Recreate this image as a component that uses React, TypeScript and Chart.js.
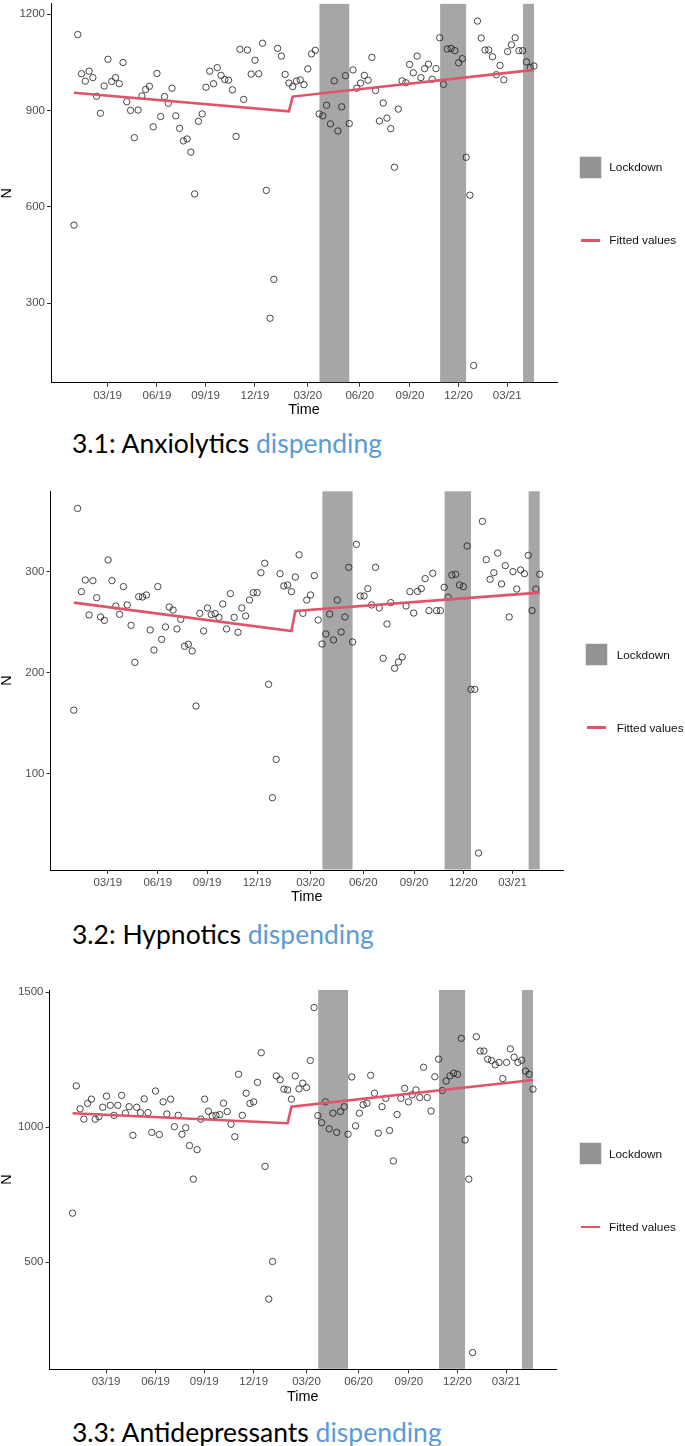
import React, { useEffect, useRef } from "react";
import { Chart, registerables } from "chart.js";

Chart.register(...registerables);

// ---------- data ----------
const WEEK_TICKS = [8.9, 22.0, 34.9, 48.0, 62.0, 75.8, 89.1, 102.0, 114.9];
const WEEK_TICK_LABELS = ["03/19", "06/19", "09/19", "12/19", "03/20", "06/20", "09/20", "12/20", "03/21"];

const LOCKDOWN_START = [65.1, 97.1, 119.1];
const LOCKDOWN_END = [73.0, 104.0, 122.0];

const FIT_WEEKS = [0, 57, 58, 122];

const ANXIO_N = [
  543, 1136, 1014, 991, 1022, 1002, 944, 891, 976, 1059, 990, 1002, 983, 1049, 927, 900, 815, 901, 945, 965,
  975, 849, 1015, 881, 943, 922, 969, 883, 844, 805, 811, 770, 640, 866, 889, 972, 1022, 983, 1033, 1009,
  996, 994, 964, 819, 1090, 934, 1088, 1013, 1056, 1014, 1109, 651, 253, 374, 1093, 1069, 1012, 985, 974, 991,
  995, 980, 1029, 1076, 1087, 889, 883, 916, 858, 992, 836, 911, 1008, 859, 1026, 969, 985, 1009, 994, 1065,
  962, 867, 923, 876, 843, 723, 904, 992, 986, 1043, 1017, 1069, 1002, 1030, 1044, 997, 1030, 1126, 981, 1091,
  1093, 1086, 1048, 1061, 754, 636, 106, 1178, 1125, 1088, 1088, 1067, 1011, 1040, 995, 1083, 1104, 1126, 1086, 1086,
  1051, 1033, 1038,
];
const ANXIO_FIT = [955, 897, 943, 1026];
const ANXIO_YTICKS = [300, 600, 900, 1200];

const HYPNO_N = [
  163, 363, 280.5, 292, 257.4, 291.4, 274.5, 255.4, 252, 311.9, 291.4, 266.3, 258, 285.5, 267.3, 247.1, 210.4, 275.5, 275.2, 277.2,
  242.5, 222.6, 285.5, 233.2, 245.5, 265.3, 262.3, 243.5, 253, 226.3, 228.3, 221.7, 167.1, 259, 241.5, 264.3, 257.7, 258.7, 255, 268.3,
  243.5, 278.5, 255, 240.2, 264.3, 256.4, 272.2, 279.5, 279.5, 299.3, 308.6, 188.6, 76.2, 114.2, 298.3, 286.1, 287.1, 280.5, 295, 317,
  259, 272.2, 277.2, 296.4, 252.4, 228.6, 238.5, 258.3, 232.6, 272.2, 240.5, 255.4, 304.6, 230.6, 327.4, 276.2, 276.2, 283.5, 267.3, 304.6,
  264.3, 214.4, 248.4, 269.6, 204.5, 210.7, 215.7, 266.3, 280.5, 259.3, 280.8, 283.5, 293.4, 261.7, 298.7, 261.7, 261.7, 284.8, 274.9, 297,
  297.7, 287.1, 285.5, 325.8, 183.6, 183.6, 21.3, 350.2, 312.2, 292.7, 299.3, 318.8, 288.1, 306.3, 255.4, 300.3, 283.1, 302, 298.3, 316.5,
  261.7, 283.1, 297.7,
];
const HYPNO_FIT = [269.6, 241.5, 261.3, 279.5];
const HYPNO_YTICKS = [100, 200, 300];

const ANTIDEP_N = [
  682, 1153, 1068, 1030, 1088, 1104, 1030, 1039, 1074, 1115, 1081, 1044, 1081, 1118, 1052, 1076, 970, 1074, 1054, 1105,
  1054, 981, 1134, 973, 1094, 1049, 1104, 1002, 1044, 974, 998, 932, 808, 917, 1030, 1104, 1059, 1042, 1044, 1047,
  1089, 1058, 1011, 965, 1196, 1044, 1126, 1088, 1094, 1166, 1276, 855, 364, 503, 1190, 1176, 1141, 1138, 1104, 1190,
  1142, 1163, 1147, 1247, 1443, 1043, 1017, 1094, 994, 1052, 981, 1058, 1076, 974, 1186, 1005, 1052, 1083, 1089, 1192,
  1126, 978, 1076, 1107, 988, 875, 1047, 1107, 1144, 1094, 1120, 1138, 1110, 1222, 1110, 1060, 1187, 1252, 1136, 1171,
  1190, 1200, 1196, 1329, 953, 808, 166, 1335, 1282, 1282, 1252, 1247, 1231, 1240, 1180, 1240, 1290, 1259, 1240, 1248,
  1208, 1196, 1141,
];
const ANTIDEP_FIT = [1052, 1015, 1076, 1175];
const ANTIDEP_YTICKS = [500, 1000, 1500];

// ---------- styles ----------
const FIT_COLOR = "#DF536B";
const BAND_COLOR = "#a6a6a6";
const LEGEND_BOX_COLOR = "#939393";
const TICK_TEXT = "#4d4d4d";
const SANS = "'Liberation Sans', Arial, sans-serif";

Chart.defaults.font.family = SANS;

const bandPlugin = {
  id: "lockdownBands",
  beforeDatasetsDraw(chart: any) {
    const { ctx, chartArea, scales } = chart;
    const x = scales.x;
    ctx.save();
    ctx.fillStyle = BAND_COLOR;
    LOCKDOWN_START.forEach((s, k) => {
      const x1 = x.getPixelForValue(s);
      const x2 = x.getPixelForValue(LOCKDOWN_END[k]);
      ctx.fillRect(x1, chartArea.top, x2 - x1, chartArea.bottom - chartArea.top - 0.5);
    });
    ctx.restore();
  },
};

type PanelProps = {
  values: number[];
  fit: number[];
  yTicks: number[];
  yMin: number;
  yMax: number;
  plotTop: number;
  plotBottom: number;
  plotLeft: number;
  plotRight: number;
};

const CANVAS_W = 600;
const PAD_TOP = 12;
const X_AXIS_H = 36;

function Panel(p: PanelProps) {
  const ref = useRef<HTMLCanvasElement>(null);
  const canvasTop = Math.floor(p.plotTop) - PAD_TOP;
  const canvasH = Math.ceil(p.plotBottom - canvasTop + X_AXIS_H + 2);
  useEffect(() => {
    const canvas = ref.current;
    if (!canvas) return;
    const chart = new Chart(canvas, {
      type: "scatter",
      data: {
        datasets: [
          {
            type: "line",
            label: "Fitted values",
            data: FIT_WEEKS.map((w, i) => ({ x: w, y: p.fit[i] })),
            borderColor: FIT_COLOR,
            backgroundColor: FIT_COLOR,
            borderWidth: 2.6,
            pointRadius: 0,
            tension: 0,
            order: 0,
          } as any,
          {
            type: "scatter",
            label: "N",
            data: p.values.map((v, i) => ({ x: i, y: v })),
            pointRadius: 3.2,
            pointBorderWidth: 0.8,
            pointBorderColor: "#1a1a1a",
            pointBackgroundColor: "rgba(0,0,0,0)",
            order: 1,
          } as any,
        ],
      },
      options: {
        responsive: false,
        animation: false,
        devicePixelRatio: 1,
        layout: {
          padding: {
            left: 0,
            top: p.plotTop - canvasTop,
            right: CANVAS_W - p.plotRight,
            bottom: canvasH - (p.plotBottom - canvasTop) - X_AXIS_H,
          },
        },
        plugins: {
          legend: { display: false },
          tooltip: { enabled: false },
        },
        scales: {
          x: {
            type: "linear",
            min: -6.1,
            max: 128.1,
            afterBuildTicks: (scale: any) => {
              scale.ticks = WEEK_TICKS.map((v) => ({ value: v }));
            },
            afterFit: (scale: any) => {
              scale.height = X_AXIS_H;
            },
            ticks: {
              autoSkip: false,
              maxRotation: 0,
              padding: 2,
              color: TICK_TEXT,
              font: { size: 11.5, family: SANS },
              callback: (_v: any, i: number) => WEEK_TICK_LABELS[i],
            },
            grid: { display: true, drawOnChartArea: false, drawTicks: true, tickLength: 4, color: "#333" },
            border: { display: true, color: "#000", width: 1 },
            title: {
              display: true,
              text: "Time",
              color: "#000",
              font: { size: 14.4, family: SANS, lineHeight: 1.2 },
              padding: { top: 0, bottom: 0 },
            },
          },
          y: {
            type: "linear",
            min: p.yMin,
            max: p.yMax,
            afterBuildTicks: (scale: any) => {
              scale.ticks = p.yTicks.map((v) => ({ value: v }));
            },
            afterFit: (scale: any) => {
              scale.width = p.plotLeft;
            },
            ticks: {
              padding: 2,
              color: TICK_TEXT,
              font: { size: 11.5, family: SANS },
              callback: (v: any) => String(v),
            },
            grid: { display: true, drawOnChartArea: false, drawTicks: true, tickLength: 4, color: "#333" },
            border: { display: true, color: "#000", width: 1 },
            title: {
              display: true,
              text: "N",
              color: "#000",
              font: { size: 14.4, family: SANS, lineHeight: 1 },
              padding: { top: 0, bottom: 0 },
            },
          },
        },
      },
      plugins: [bandPlugin],
    });
    return () => chart.destroy();
  }, []);
  return (
    <canvas
      ref={ref}
      width={CANVAS_W}
      height={canvasH}
      style={{ position: "absolute", left: 0, top: canvasTop, width: CANVAS_W, height: canvasH }}
    />
  );
}

type LegendProps = { keyLeft: number; boxTop: number; lineY: number; textLeft: number };

function Legend(l: LegendProps) {
  const txt: React.CSSProperties = {
    position: "absolute",
    left: l.textLeft,
    fontFamily: SANS,
    fontSize: 11.8,
    lineHeight: "14px",
    height: 14,
    color: "#111",
    whiteSpace: "nowrap",
  };
  return (
    <>
      <div
        style={{
          position: "absolute",
          left: l.keyLeft,
          top: l.boxTop,
          width: 21,
          height: 21,
          background: LEGEND_BOX_COLOR,
          boxShadow: "0 0 0 0.5px #c8c8c8",
        }}
      />
      <div style={{ ...txt, top: l.boxTop + 10.5 - 7 }}>Lockdown</div>
      <div
        style={{
          position: "absolute",
          left: l.keyLeft + 1,
          top: l.lineY - 1.3,
          width: 19,
          height: 2.6,
          background: FIT_COLOR,
        }}
      />
      <div style={{ ...txt, top: l.lineY - 7 }}>Fitted values</div>
    </>
  );
}

function Caption({ top, name }: { top: number; name: string }) {
  return (
    <div
      style={{
        position: "absolute",
        left: 72,
        top,
        fontFamily: "Lato, 'Open Sans', sans-serif",
        fontSize: 26.5,
        lineHeight: 1,
        whiteSpace: "nowrap",
        color: "#000",
      }}
    >
      {name} <span style={{ color: "#5B9BD5" }}>dispending</span>
    </div>
  );
}

export default function App() {
  return (
    <div style={{ position: "absolute", left: 0, top: 0, width: 685, height: 1446, background: "#fff", overflow: "hidden" }}>
      <Panel
        values={ANXIO_N}
        fit={ANXIO_FIT}
        yTicks={ANXIO_YTICKS}
        yMin={52.4}
        yMax={1231.6}
        plotTop={3.85}
        plotBottom={382.7}
        plotLeft={51}
        plotRight={557}
      />
      <Legend keyLeft={580} boxTop={156.7} lineY={240.3} textLeft={609.3} />
      <Caption top={429.5} name="3.1: Anxiolytics" />

      <Panel
        values={HYPNO_N}
        fit={HYPNO_FIT}
        yTicks={HYPNO_YTICKS}
        yMin={4.5}
        yMax={380}
        plotTop={491.3}
        plotBottom={870}
        plotLeft={50.5}
        plotRight={563}
      />
      <Legend keyLeft={586} boxTop={644} lineY={727.7} textLeft={616.7} />
      <Caption top={920.5} name="3.2: Hypnotics" />

      <Panel
        values={ANTIDEP_N}
        fit={ANTIDEP_FIT}
        yTicks={ANTIDEP_YTICKS}
        yMin={104}
        yMax={1508}
        plotTop={990}
        plotBottom={1369.3}
        plotLeft={49.5}
        plotRight={556}
      />
      <Legend keyLeft={579.5} boxTop={1143.3} lineY={1227} textLeft={609} />
      <Caption top={1418.5} name="3.3: Antidepressants" />
    </div>
  );
}
